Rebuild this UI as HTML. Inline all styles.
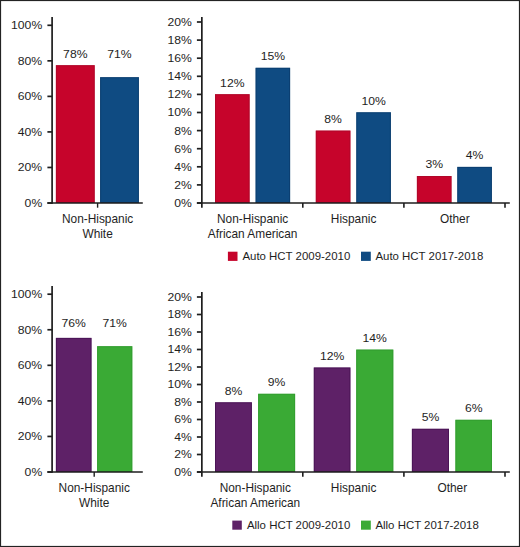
<!DOCTYPE html>
<html><head><meta charset="utf-8"><style>
html,body{margin:0;padding:0;background:#fff;}
body{width:520px;height:547px;overflow:hidden;}
svg{display:block;}
text{font-family:"Liberation Sans",sans-serif;fill:#1e1e1e;}
</style></head><body>
<svg width="520" height="547" viewBox="0 0 520 547">
<rect x="0.5" y="0.5" width="519" height="546" fill="#fff" stroke="#232323" stroke-width="1.2"/>
<line x1="52.1" y1="16.9" x2="52.1" y2="203.85" stroke="#1e1e1e" stroke-width="1.7"/>
<line x1="47.4" y1="25.3" x2="52.1" y2="25.3" stroke="#1e1e1e" stroke-width="1.7"/>
<text transform="translate(42.20 29.20) scale(1.015 0.945)" text-anchor="end" font-size="12">100%</text>
<line x1="47.4" y1="60.84" x2="52.1" y2="60.84" stroke="#1e1e1e" stroke-width="1.7"/>
<text transform="translate(42.20 64.74) scale(1.015 0.945)" text-anchor="end" font-size="12">80%</text>
<line x1="47.4" y1="96.38" x2="52.1" y2="96.38" stroke="#1e1e1e" stroke-width="1.7"/>
<text transform="translate(42.20 100.28) scale(1.015 0.945)" text-anchor="end" font-size="12">60%</text>
<line x1="47.4" y1="131.92" x2="52.1" y2="131.92" stroke="#1e1e1e" stroke-width="1.7"/>
<text transform="translate(42.20 135.82) scale(1.015 0.945)" text-anchor="end" font-size="12">40%</text>
<line x1="47.4" y1="167.46" x2="52.1" y2="167.46" stroke="#1e1e1e" stroke-width="1.7"/>
<text transform="translate(42.20 171.36) scale(1.015 0.945)" text-anchor="end" font-size="12">20%</text>
<line x1="47.4" y1="203.0" x2="52.1" y2="203.0" stroke="#1e1e1e" stroke-width="1.7"/>
<text transform="translate(42.20 206.90) scale(1.015 0.945)" text-anchor="end" font-size="12">0%</text>
<rect x="55.90" y="65.20" width="38.80" height="137.80" fill="#C6042B"/>
<rect x="56.40" y="65.70" width="37.80" height="136.80" fill="none" stroke="#A8082A" stroke-width="1" stroke-opacity="0.7"/>
<text transform="translate(75.30 57.50) scale(1.015 0.945)" text-anchor="middle" font-size="12">78%</text>
<rect x="100.10" y="77.20" width="38.80" height="125.80" fill="#0F4B82"/>
<rect x="100.60" y="77.70" width="37.80" height="124.80" fill="none" stroke="#0A3A6A" stroke-width="1" stroke-opacity="0.7"/>
<text transform="translate(119.50 57.50) scale(1.015 0.945)" text-anchor="middle" font-size="12">71%</text>
<line x1="47.4" y1="203.0" x2="142.8" y2="203.0" stroke="#1e1e1e" stroke-width="1.7"/>
<line x1="97.6" y1="203.0" x2="97.6" y2="207.7" stroke="#1e1e1e" stroke-width="1.4"/>
<line x1="201.85" y1="17.1" x2="201.85" y2="207.7" stroke="#1e1e1e" stroke-width="1.7"/>
<line x1="196.9" y1="22.0" x2="201.85" y2="22.0" stroke="#1e1e1e" stroke-width="1.7"/>
<text transform="translate(191.90 25.90) scale(1.015 0.945)" text-anchor="end" font-size="12">20%</text>
<line x1="196.9" y1="40.1" x2="201.85" y2="40.1" stroke="#1e1e1e" stroke-width="1.7"/>
<text transform="translate(191.90 44.00) scale(1.015 0.945)" text-anchor="end" font-size="12">18%</text>
<line x1="196.9" y1="58.2" x2="201.85" y2="58.2" stroke="#1e1e1e" stroke-width="1.7"/>
<text transform="translate(191.90 62.10) scale(1.015 0.945)" text-anchor="end" font-size="12">16%</text>
<line x1="196.9" y1="76.3" x2="201.85" y2="76.3" stroke="#1e1e1e" stroke-width="1.7"/>
<text transform="translate(191.90 80.20) scale(1.015 0.945)" text-anchor="end" font-size="12">14%</text>
<line x1="196.9" y1="94.4" x2="201.85" y2="94.4" stroke="#1e1e1e" stroke-width="1.7"/>
<text transform="translate(191.90 98.30) scale(1.015 0.945)" text-anchor="end" font-size="12">12%</text>
<line x1="196.9" y1="112.5" x2="201.85" y2="112.5" stroke="#1e1e1e" stroke-width="1.7"/>
<text transform="translate(191.90 116.40) scale(1.015 0.945)" text-anchor="end" font-size="12">10%</text>
<line x1="196.9" y1="130.6" x2="201.85" y2="130.6" stroke="#1e1e1e" stroke-width="1.7"/>
<text transform="translate(191.90 134.50) scale(1.015 0.945)" text-anchor="end" font-size="12">8%</text>
<line x1="196.9" y1="148.7" x2="201.85" y2="148.7" stroke="#1e1e1e" stroke-width="1.7"/>
<text transform="translate(191.90 152.60) scale(1.015 0.945)" text-anchor="end" font-size="12">6%</text>
<line x1="196.9" y1="166.8" x2="201.85" y2="166.8" stroke="#1e1e1e" stroke-width="1.7"/>
<text transform="translate(191.90 170.70) scale(1.015 0.945)" text-anchor="end" font-size="12">4%</text>
<line x1="196.9" y1="184.9" x2="201.85" y2="184.9" stroke="#1e1e1e" stroke-width="1.7"/>
<text transform="translate(191.90 188.80) scale(1.015 0.945)" text-anchor="end" font-size="12">2%</text>
<line x1="196.9" y1="203.0" x2="201.85" y2="203.0" stroke="#1e1e1e" stroke-width="1.7"/>
<text transform="translate(191.90 206.90) scale(1.015 0.945)" text-anchor="end" font-size="12">0%</text>
<rect x="215.00" y="94.20" width="34.60" height="108.80" fill="#C6042B"/>
<rect x="215.50" y="94.70" width="33.60" height="107.80" fill="none" stroke="#A8082A" stroke-width="1" stroke-opacity="0.7"/>
<text transform="translate(232.30 86.60) scale(1.015 0.945)" text-anchor="middle" font-size="12">12%</text>
<rect x="255.60" y="67.80" width="34.50" height="135.20" fill="#0F4B82"/>
<rect x="256.10" y="68.30" width="33.50" height="134.20" fill="none" stroke="#0A3A6A" stroke-width="1" stroke-opacity="0.7"/>
<text transform="translate(272.85 60.20) scale(1.015 0.945)" text-anchor="middle" font-size="12">15%</text>
<rect x="315.80" y="130.60" width="34.60" height="72.40" fill="#C6042B"/>
<rect x="316.30" y="131.10" width="33.60" height="71.40" fill="none" stroke="#A8082A" stroke-width="1" stroke-opacity="0.7"/>
<text transform="translate(333.10 123.00) scale(1.015 0.945)" text-anchor="middle" font-size="12">8%</text>
<rect x="356.30" y="112.30" width="34.60" height="90.70" fill="#0F4B82"/>
<rect x="356.80" y="112.80" width="33.60" height="89.70" fill="none" stroke="#0A3A6A" stroke-width="1" stroke-opacity="0.7"/>
<text transform="translate(373.60 104.70) scale(1.015 0.945)" text-anchor="middle" font-size="12">10%</text>
<rect x="416.90" y="176.00" width="34.60" height="27.00" fill="#C6042B"/>
<rect x="417.40" y="176.50" width="33.60" height="26.00" fill="none" stroke="#A8082A" stroke-width="1" stroke-opacity="0.7"/>
<text transform="translate(434.20 168.40) scale(1.015 0.945)" text-anchor="middle" font-size="12">3%</text>
<rect x="457.30" y="166.90" width="34.60" height="36.10" fill="#0F4B82"/>
<rect x="457.80" y="167.40" width="33.60" height="35.10" fill="none" stroke="#0A3A6A" stroke-width="1" stroke-opacity="0.7"/>
<text transform="translate(474.60 159.30) scale(1.015 0.945)" text-anchor="middle" font-size="12">4%</text>
<line x1="196.9" y1="203.0" x2="509.8" y2="203.0" stroke="#1e1e1e" stroke-width="1.7"/>
<line x1="302.8" y1="203.0" x2="302.8" y2="207.7" stroke="#1e1e1e" stroke-width="1.6"/>
<line x1="403.9" y1="203.0" x2="403.9" y2="207.7" stroke="#1e1e1e" stroke-width="1.6"/>
<line x1="505.0" y1="203.0" x2="505.0" y2="207.7" stroke="#1e1e1e" stroke-width="1.6"/>
<text transform="translate(97.60 222.75) scale(0.99 1.05)" text-anchor="middle" font-size="12.0">Non-Hispanic</text>
<text transform="translate(97.60 237.80) scale(0.99 1.05)" text-anchor="middle" font-size="12.0">White</text>
<text transform="translate(252.60 222.75) scale(0.99 1.05)" text-anchor="middle" font-size="12.0">Non-Hispanic</text>
<text transform="translate(252.60 237.80) scale(0.99 1.05)" text-anchor="middle" font-size="12.0">African American</text>
<text transform="translate(353.60 222.75) scale(0.99 1.05)" text-anchor="middle" font-size="12.0">Hispanic</text>
<text transform="translate(454.80 222.75) scale(0.99 1.05)" text-anchor="middle" font-size="12.0">Other</text>
<rect x="227.90" y="251.70" width="9.60" height="9.20" fill="#C6042B"/>
<text x="242.40" y="259.90" text-anchor="start" font-size="11.45">Auto HCT 2009-2010</text>
<rect x="361.00" y="251.70" width="9.80" height="9.20" fill="#0F4B82"/>
<text x="375.40" y="259.90" text-anchor="start" font-size="11.45">Auto HCT 2017-2018</text>
<line x1="52.1" y1="285.9" x2="52.1" y2="472.85" stroke="#1e1e1e" stroke-width="1.7"/>
<line x1="47.4" y1="294.2" x2="52.1" y2="294.2" stroke="#1e1e1e" stroke-width="1.7"/>
<text transform="translate(42.20 298.10) scale(1.015 0.945)" text-anchor="end" font-size="12">100%</text>
<line x1="47.4" y1="329.76" x2="52.1" y2="329.76" stroke="#1e1e1e" stroke-width="1.7"/>
<text transform="translate(42.20 333.66) scale(1.015 0.945)" text-anchor="end" font-size="12">80%</text>
<line x1="47.4" y1="365.32" x2="52.1" y2="365.32" stroke="#1e1e1e" stroke-width="1.7"/>
<text transform="translate(42.20 369.22) scale(1.015 0.945)" text-anchor="end" font-size="12">60%</text>
<line x1="47.4" y1="400.88" x2="52.1" y2="400.88" stroke="#1e1e1e" stroke-width="1.7"/>
<text transform="translate(42.20 404.78) scale(1.015 0.945)" text-anchor="end" font-size="12">40%</text>
<line x1="47.4" y1="436.44" x2="52.1" y2="436.44" stroke="#1e1e1e" stroke-width="1.7"/>
<text transform="translate(42.20 440.34) scale(1.015 0.945)" text-anchor="end" font-size="12">20%</text>
<line x1="47.4" y1="472.0" x2="52.1" y2="472.0" stroke="#1e1e1e" stroke-width="1.7"/>
<text transform="translate(42.20 475.90) scale(1.015 0.945)" text-anchor="end" font-size="12">0%</text>
<rect x="55.90" y="337.90" width="35.60" height="134.10" fill="#5E2167"/>
<rect x="56.40" y="338.40" width="34.60" height="133.10" fill="none" stroke="#431050" stroke-width="1" stroke-opacity="0.7"/>
<text transform="translate(73.70 326.80) scale(1.015 0.945)" text-anchor="middle" font-size="12">76%</text>
<rect x="97.10" y="346.20" width="35.20" height="125.80" fill="#3AAA35"/>
<rect x="97.60" y="346.70" width="34.20" height="124.80" fill="none" stroke="#309A2E" stroke-width="1" stroke-opacity="0.7"/>
<text transform="translate(114.70 326.80) scale(1.015 0.945)" text-anchor="middle" font-size="12">71%</text>
<line x1="47.4" y1="472.0" x2="142.8" y2="472.0" stroke="#1e1e1e" stroke-width="1.7"/>
<line x1="94.2" y1="472.0" x2="94.2" y2="476.7" stroke="#1e1e1e" stroke-width="1.4"/>
<line x1="201.85" y1="292.1" x2="201.85" y2="476.7" stroke="#1e1e1e" stroke-width="1.7"/>
<line x1="196.9" y1="297.0" x2="201.85" y2="297.0" stroke="#1e1e1e" stroke-width="1.7"/>
<text transform="translate(191.90 300.90) scale(1.015 0.945)" text-anchor="end" font-size="12">20%</text>
<line x1="196.9" y1="314.5" x2="201.85" y2="314.5" stroke="#1e1e1e" stroke-width="1.7"/>
<text transform="translate(191.90 318.40) scale(1.015 0.945)" text-anchor="end" font-size="12">18%</text>
<line x1="196.9" y1="332.0" x2="201.85" y2="332.0" stroke="#1e1e1e" stroke-width="1.7"/>
<text transform="translate(191.90 335.90) scale(1.015 0.945)" text-anchor="end" font-size="12">16%</text>
<line x1="196.9" y1="349.5" x2="201.85" y2="349.5" stroke="#1e1e1e" stroke-width="1.7"/>
<text transform="translate(191.90 353.40) scale(1.015 0.945)" text-anchor="end" font-size="12">14%</text>
<line x1="196.9" y1="367.0" x2="201.85" y2="367.0" stroke="#1e1e1e" stroke-width="1.7"/>
<text transform="translate(191.90 370.90) scale(1.015 0.945)" text-anchor="end" font-size="12">12%</text>
<line x1="196.9" y1="384.5" x2="201.85" y2="384.5" stroke="#1e1e1e" stroke-width="1.7"/>
<text transform="translate(191.90 388.40) scale(1.015 0.945)" text-anchor="end" font-size="12">10%</text>
<line x1="196.9" y1="402.0" x2="201.85" y2="402.0" stroke="#1e1e1e" stroke-width="1.7"/>
<text transform="translate(191.90 405.90) scale(1.015 0.945)" text-anchor="end" font-size="12">8%</text>
<line x1="196.9" y1="419.5" x2="201.85" y2="419.5" stroke="#1e1e1e" stroke-width="1.7"/>
<text transform="translate(191.90 423.40) scale(1.015 0.945)" text-anchor="end" font-size="12">6%</text>
<line x1="196.9" y1="437.0" x2="201.85" y2="437.0" stroke="#1e1e1e" stroke-width="1.7"/>
<text transform="translate(191.90 440.90) scale(1.015 0.945)" text-anchor="end" font-size="12">4%</text>
<line x1="196.9" y1="454.5" x2="201.85" y2="454.5" stroke="#1e1e1e" stroke-width="1.7"/>
<text transform="translate(191.90 458.40) scale(1.015 0.945)" text-anchor="end" font-size="12">2%</text>
<line x1="196.9" y1="472.0" x2="201.85" y2="472.0" stroke="#1e1e1e" stroke-width="1.7"/>
<text transform="translate(191.90 475.90) scale(1.015 0.945)" text-anchor="end" font-size="12">0%</text>
<rect x="215.00" y="402.30" width="36.90" height="69.70" fill="#5E2167"/>
<rect x="215.50" y="402.80" width="35.90" height="68.70" fill="none" stroke="#431050" stroke-width="1" stroke-opacity="0.7"/>
<text transform="translate(233.45 394.70) scale(1.015 0.945)" text-anchor="middle" font-size="12">8%</text>
<rect x="258.10" y="393.80" width="37.00" height="78.20" fill="#3AAA35"/>
<rect x="258.60" y="394.30" width="36.00" height="77.20" fill="none" stroke="#309A2E" stroke-width="1" stroke-opacity="0.7"/>
<text transform="translate(276.60 386.20) scale(1.015 0.945)" text-anchor="middle" font-size="12">9%</text>
<rect x="313.80" y="367.50" width="36.60" height="104.50" fill="#5E2167"/>
<rect x="314.30" y="368.00" width="35.60" height="103.50" fill="none" stroke="#431050" stroke-width="1" stroke-opacity="0.7"/>
<text transform="translate(332.10 359.90) scale(1.015 0.945)" text-anchor="middle" font-size="12">12%</text>
<rect x="356.20" y="349.60" width="37.10" height="122.40" fill="#3AAA35"/>
<rect x="356.70" y="350.10" width="36.10" height="121.40" fill="none" stroke="#309A2E" stroke-width="1" stroke-opacity="0.7"/>
<text transform="translate(374.75 342.00) scale(1.015 0.945)" text-anchor="middle" font-size="12">14%</text>
<rect x="411.90" y="428.80" width="37.10" height="43.20" fill="#5E2167"/>
<rect x="412.40" y="429.30" width="36.10" height="42.20" fill="none" stroke="#431050" stroke-width="1" stroke-opacity="0.7"/>
<text transform="translate(430.45 421.20) scale(1.015 0.945)" text-anchor="middle" font-size="12">5%</text>
<rect x="455.40" y="419.80" width="36.60" height="52.20" fill="#3AAA35"/>
<rect x="455.90" y="420.30" width="35.60" height="51.20" fill="none" stroke="#309A2E" stroke-width="1" stroke-opacity="0.7"/>
<text transform="translate(473.70 412.20) scale(1.015 0.945)" text-anchor="middle" font-size="12">6%</text>
<line x1="196.9" y1="472.0" x2="509.8" y2="472.0" stroke="#1e1e1e" stroke-width="1.7"/>
<line x1="302.8" y1="472.0" x2="302.8" y2="476.7" stroke="#1e1e1e" stroke-width="1.6"/>
<line x1="403.9" y1="472.0" x2="403.9" y2="476.7" stroke="#1e1e1e" stroke-width="1.6"/>
<line x1="505.0" y1="472.0" x2="505.0" y2="476.7" stroke="#1e1e1e" stroke-width="1.6"/>
<text transform="translate(94.20 492.10) scale(0.99 1.05)" text-anchor="middle" font-size="12.0">Non-Hispanic</text>
<text transform="translate(94.20 506.60) scale(0.99 1.05)" text-anchor="middle" font-size="12.0">White</text>
<text transform="translate(255.30 492.10) scale(0.99 1.05)" text-anchor="middle" font-size="12.0">Non-Hispanic</text>
<text transform="translate(255.30 507.10) scale(0.99 1.05)" text-anchor="middle" font-size="12.0">African American</text>
<text transform="translate(353.60 492.10) scale(0.99 1.05)" text-anchor="middle" font-size="12.0">Hispanic</text>
<text transform="translate(452.30 492.10) scale(0.99 1.05)" text-anchor="middle" font-size="12.0">Other</text>
<rect x="232.30" y="520.60" width="9.50" height="9.10" fill="#5E2167"/>
<text x="246.90" y="528.80" text-anchor="start" font-size="11.45">Allo HCT 2009-2010</text>
<rect x="361.00" y="520.60" width="9.80" height="9.10" fill="#3AAA35"/>
<text x="375.40" y="528.80" text-anchor="start" font-size="11.45">Allo HCT 2017-2018</text>
</svg>
</body></html>
